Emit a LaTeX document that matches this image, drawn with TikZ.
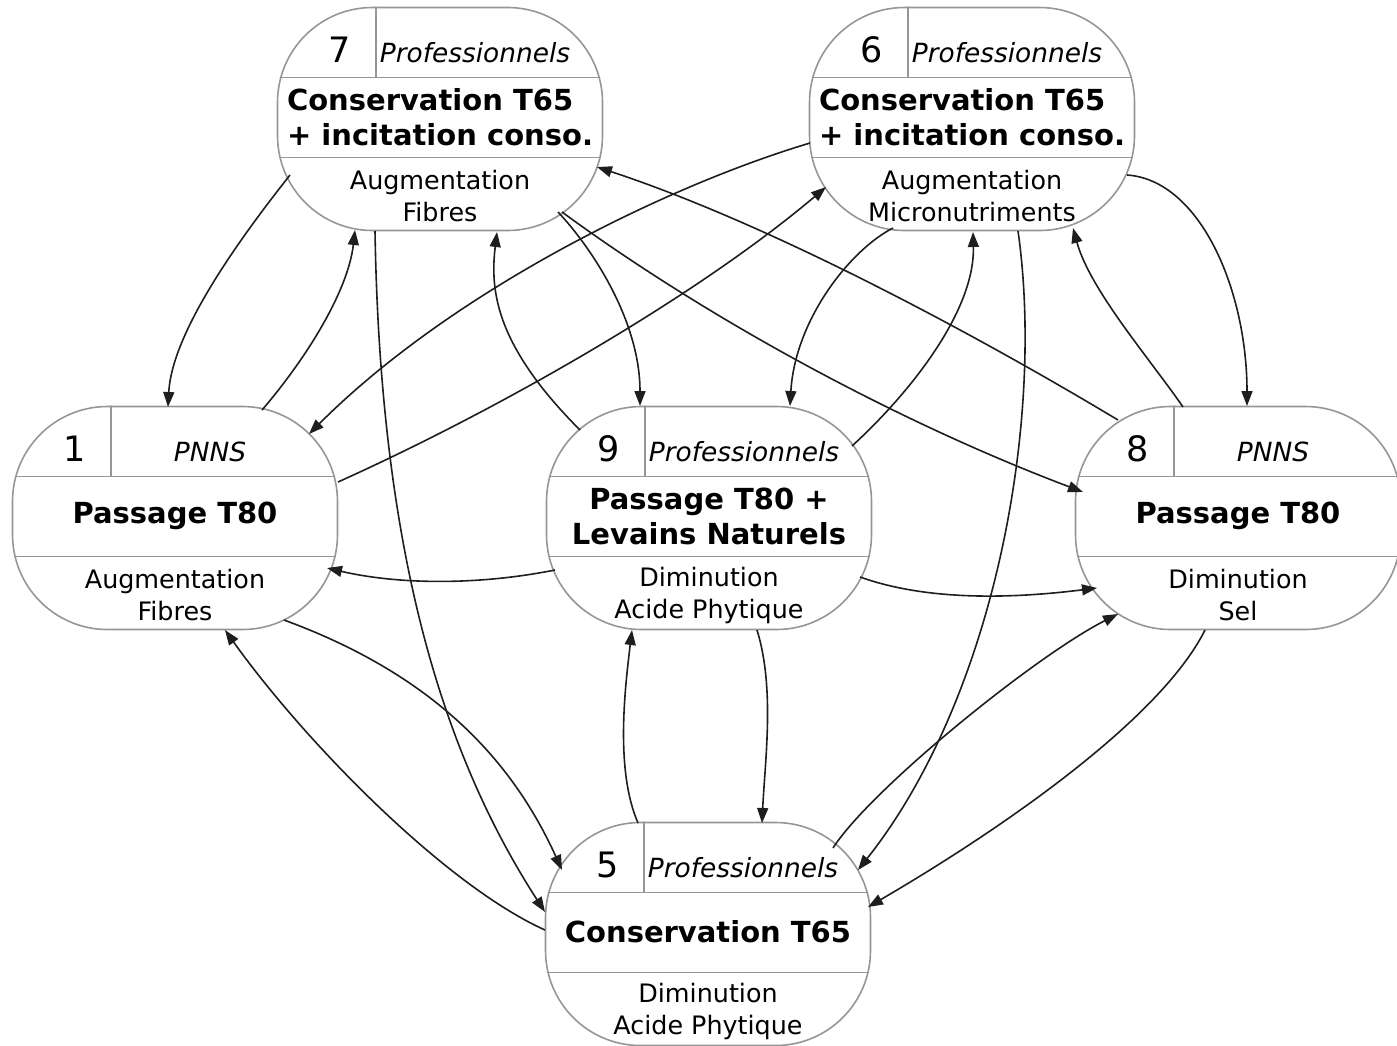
\documentclass[tikz,border=0pt]{standalone}
\usepackage{fontspec}
\setmainfont{DejaVu Sans}
\usepackage{tikz}
\usetikzlibrary{arrows.meta}
\usepackage{xcolor}
\definecolor{Mline}{RGB}{150,150,150}
\definecolor{Marrow}{RGB}{30,30,30}
% #1 name, #2 x, #3 y, #4 number, #5 actor, #6 title, #7 goal, #8 title align
\newcommand{\Mnode}[8]{%
    \node[mshape] (#1) at (#2,#3) {};
    \begin{scope}
      \clip[rounded corners=47.5pt] (#1.south west) rectangle (#1.north east);
      \draw[mline] (#2-170,#3-41.5) -- (#2+170,#3-41.5);
      \draw[mline] (#2-170,#3+38.5) -- (#2+170,#3+38.5);
      \draw[mline] (#2-64,#3-120) -- (#2-64,#3-41.5);
    \end{scope}
    \node[mnum] (#1-num) at (#2-100,#3-57) {#4};
    \node[mwho] (#1-who) at (#2+35,#3-57) {#5};
    \node[mtitle, align=#8] (#1-title) at (#2,#3-2) {#6};
    \node[mgoal] (#1-goal) at (#2,#3+77) {#7};
  }

\begin{document}
\begin{tikzpicture}[x=0.5pt,y=-0.5pt,
    mshape/.style={draw=Mline, line width=0.8pt, fill=white, rounded corners=47.5pt,
      minimum width=162.5pt, minimum height=111.5pt, inner sep=0pt},
    mline/.style={draw=Mline, line width=0.8pt},
    mnum/.style={anchor=base, inner sep=0pt, font=\fontsize{17.5}{20}\selectfont},
    mwho/.style={anchor=base, inner sep=0pt, font=\itshape\fontsize{13.2}{16}\selectfont},
    mtitle/.style={inner sep=0pt, font=\bfseries\fontsize{14.5}{17.5}\selectfont},
    mgoal/.style={inner sep=0pt, align=center, font=\fontsize{12.7}{16}\selectfont},
    flow/.style={draw=Marrow, line width=0.8pt, -{Triangle[length=7.5pt,width=5.5pt]}}]
  \useasboundingbox (0,0) rectangle (1397,1045);

  % ------------------------------------------------
  % the six measures
  % ------------------------------------------------
  \Mnode{n7}{440}{119}{7}{Professionnels}{Conservation T65\\+ incitation conso.}{Augmentation\\Fibres}{left}
  \Mnode{n6}{972}{119}{6}{Professionnels}{Conservation T65\\+ incitation conso.}{Augmentation\\Micronutriments}{left}
  \Mnode{n1}{175}{518}{1}{PNNS}{Passage T80}{Augmentation\\Fibres}{center}
  \Mnode{n9}{709}{518}{9}{Professionnels}{Passage T80 +\\Levains Naturels}{Diminution\\Acide Phytique}{center}
  \Mnode{n8}{1238}{518}{8}{PNNS}{Passage T80}{Diminution\\Sel}{center}
  \Mnode{n5}{708}{934}{5}{Professionnels}{Conservation T65}{Diminution\\Acide Phytique}{center}

  % ------------------------------------------------
  % transitions
  % ------------------------------------------------
  % from 7
  \draw[flow] ([shift={(-150,56)}]n7.center) .. controls +(-45,57) and +(4,-77) .. ([shift={(-7,-111)}]n1.center);
  \draw[flow] ([shift={(-65,112)}]n7.center) .. controls +(5,302) and +(-110,-170) .. ([shift={(-163,-22)}]n5.center);
  \draw[flow] ([shift={(118,93)}]n7.center) .. controls +(33,35) and +(0,-86) .. ([shift={(-69,-112)}]n9.center);
  \draw[flow] ([shift={(122,93)}]n7.center) .. controls +(150,110) and +(-180,-68) .. ([shift={(-155,-26)}]n8.center);

  % from 1
  \draw[flow] ([shift={(87,-108)}]n1.center) .. controls +(43,-50) and +(-7,62) .. ([shift={(-85,111)}]n7.center);
  \draw[flow] ([shift={(163,-36)}]n1.center) .. controls +(160,-72) and +(-130,110) .. ([shift={(-146,68)}]n6.center);
  \draw[flow] ([shift={(109,102)}]n1.center) .. controls +(150,55) and +(-50,-110) .. ([shift={(-146,-64)}]n5.center);

  % from 6
  \draw[flow] ([shift={(-162,24)}]n6.center) .. controls +(-150,45) and +(140,-140) .. ([shift={(134,-84)}]n1.center);
  \draw[flow] ([shift={(-79,109)}]n6.center) .. controls +(-43,22) and +(5,-86) .. ([shift={(81,-112)}]n9.center);
  \draw[flow] ([shift={(46,112)}]n6.center) .. controls +(27,189) and +(137,-173) .. ([shift={(150,-64)}]n5.center);
  \draw[flow] ([shift={(155,56)}]n6.center) .. controls +(73,5) and +(0,-116) .. ([shift={(9,-112)}]n8.center);

  % from 9
  \draw[flow] ([shift={(-154,52)}]n9.center) .. controls +(-75,15) and +(73,17) .. ([shift={(152,50)}]n1.center);
  \draw[flow] ([shift={(-129,-88)}]n9.center) .. controls +(-85,-85) and +(-7,58) .. ([shift={(57,113)}]n7.center);
  \draw[flow] ([shift={(143,-72)}]n9.center) .. controls +(60,-55) and +(2,78) .. ([shift={(1,113)}]n6.center);
  \draw[flow] ([shift={(151,59)}]n9.center) .. controls +(70,25) and +(-80,10) .. ([shift={(-141,70)}]n8.center);
  \draw[flow] ([shift={(48,112)}]n9.center) .. controls +(18,58) and +(3,-63) .. ([shift={(54,-111)}]n5.center);

  % from 8
  \draw[flow] ([shift={(-120,-98)}]n8.center) .. controls +(-150,-90) and +(170,56) .. ([shift={(157,48)}]n7.center);
  \draw[flow] ([shift={(-55,-111)}]n8.center) .. controls +(-33,-48) and +(17,62) .. ([shift={(101,109)}]n6.center);
  \draw[flow] ([shift={(-33,112)}]n8.center) .. controls +(-45,90) and +(132,-77) .. ([shift={(160,-27)}]n5.center);

  % from 5
  \draw[flow] ([shift={(-163,-4)}]n5.center) .. controls +(-100,-45) and +(80,112) .. ([shift={(50,112)}]n1.center);
  \draw[flow] ([shift={(-70,-111)}]n5.center) .. controls +(-23,-53) and +(-7,58) .. ([shift={(-77,112)}]n9.center);
  \draw[flow] ([shift={(125,-86)}]n5.center) .. controls +(37,-58) and +(-83,42) .. ([shift={(-120,96)}]n8.center);
\end{tikzpicture}
\end{document}
